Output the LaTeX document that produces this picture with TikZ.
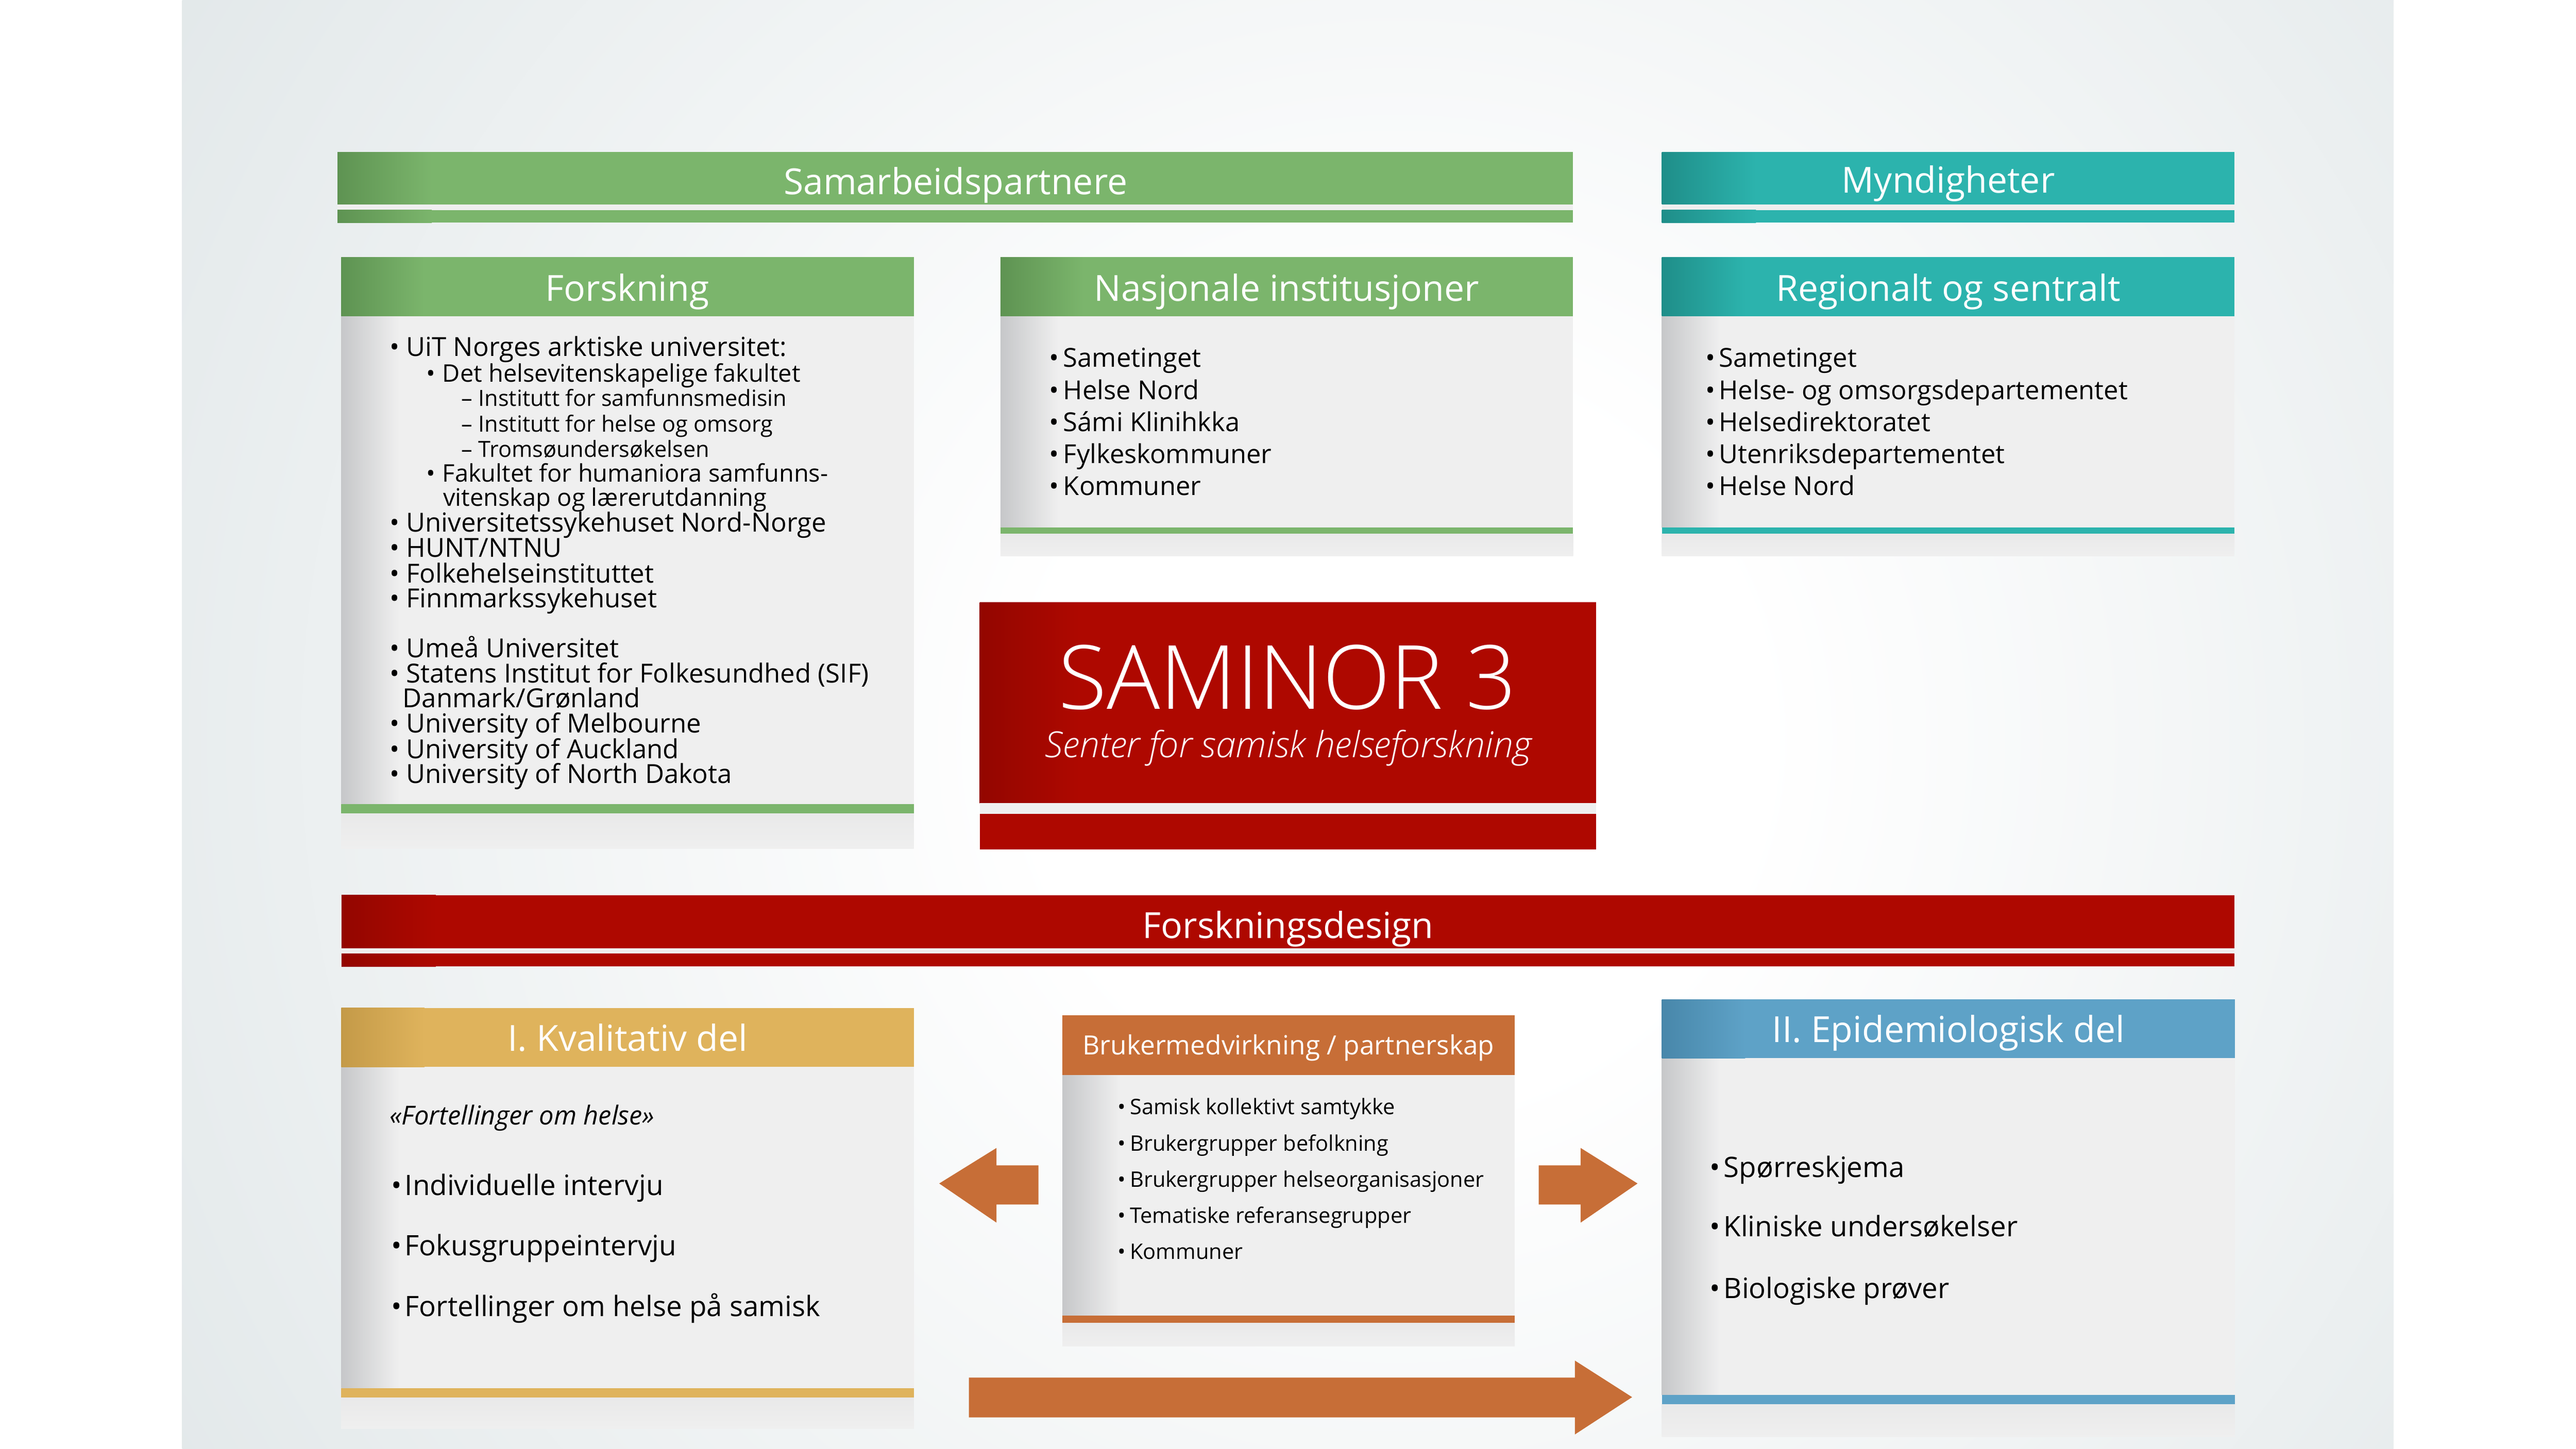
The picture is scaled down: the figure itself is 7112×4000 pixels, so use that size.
\documentclass[tikz,border=0pt]{standalone}
\usepackage{fontspec}
\usepackage{graphicx}
\setmainfont{Open Sans}
\newfontfamily\oslight{Open Sans Light}
\definecolor{bggray}{HTML}{D8E0E2}
\definecolor{bodygray}{HTML}{EFEFEF}
\definecolor{shadowgray}{HTML}{C6C7C9}
\definecolor{cgreen}{HTML}{7BB56C}
\definecolor{cgreenD}{HTML}{5E9352}
\definecolor{cteal}{HTML}{2CB3AD}
\definecolor{ctealD}{HTML}{1F8E89}
\definecolor{cred}{HTML}{AE0800}
\definecolor{credD}{HTML}{930600}
\definecolor{corange}{HTML}{C76E37}
\definecolor{cgold}{HTML}{DFB35C}
\definecolor{cgoldD}{HTML}{C49A48}
\definecolor{cblue}{HTML}{5EA2C7}
\definecolor{cblueD}{HTML}{4887AA}
\pgfdeclareradialshading{bgshade}{\pgfpoint{0bp}{0bp}}{color(0bp)=(white); color(6bp)=(white); color(30bp)=(bggray); color(50bp)=(bggray)}
\newcommand\fsT{\fontsize{28.2pt}{30pt}\selectfont}
\newcommand\fsA{\fontsize{20.6pt}{22pt}\selectfont}
\newcommand\fsB{\fontsize{19.0pt}{20pt}\selectfont}
\newcommand\fsC{\fontsize{17.5pt}{18pt}\selectfont}
\newcommand\fsN{\fontsize{20.5pt}{21pt}\selectfont}
\newcommand\fsS{\fontsize{16.8pt}{18pt}\selectfont}
\newcommand\fsH{\fontsize{20.8pt}{23pt}\selectfont}
\newcommand\fsK{\fontsize{22.1pt}{23pt}\selectfont}
\newcommand\fsBig{\fontsize{69.6pt}{72pt}\selectfont}
\newcommand\fsSub{\fontsize{28.2pt}{30pt}\selectfont}
\newcommand\bul[1]{\makebox[#1][l]{•}}
% x0 x1 top bot gapbot stripebot color dark
\newcommand\topbar[8]{%
  \fill[#7] (#1,#3) rectangle (#2,#4);
  \shade[left color=#8, right color=#7] (#1,#3) rectangle ++(260,#4-#3);
  \fill[bodygray] (#1,#4) rectangle (#2,#5);
  \fill[#7] (#1,#5) rectangle (#2,#6);
  \shade[left color=#8, right color=#7] (#1,#5) rectangle ++(260,#6-#5);
}
% x0 x1 headtop headbot linetop linebot bottom color dark
\newcommand\panelbox[9]{%
  \fill[bodygray] (#1,#4) rectangle (#2,#7);
  \shade[left color=shadowgray, right color=bodygray] (#1,#4) rectangle ++(160,#5-#4);
  \shade[top color=bodygray!85!shadowgray, bottom color=bodygray] (#1,#6) rectangle (#2,#7);
  \fill[#8] (#1,#3) rectangle (#2,#4);
  \shade[left color=#9, right color=#8] (#1,#3) rectangle ++(230,#4-#3);
  \fill[#8] (#1,#5) rectangle (#2,#6);
}
\begin{document}
\begin{tikzpicture}[x=0.01cm,y=-0.01cm,
  title/.style={text=white, anchor=base, inner sep=0pt, font=\fsT},
  txt/.style={anchor=base west, inner sep=0pt, text=black},
  arrowfill/.style={fill=corange}]
\useasboundingbox (0,0) rectangle (7112,4000);
% background
\fill[white] (0,0) rectangle (7112,4000);
\begin{scope}
  \clip (503,0) rectangle (6608,4000);
  \fill[bggray] (503,0) rectangle (6608,4000);
  \shade[shading=bgshade] (-345,-2160) rectangle (8055,6240);
\end{scope}

% top bars
\topbar{932}{4343}{420}{564}{580}{615}{cgreen}{cgreenD}
\topbar{4588}{6169}{420}{564}{580}{615}{cteal}{ctealD}
\node[title] (tSam) at (2638,537) {Samarbeidspartnere};
\node[title] (tMyn) at (5379,533) {Myndigheter};

% Forskning
\panelbox{942}{2523}{710}{873}{2220}{2246}{2344}{cgreen}{cgreenD}
\node[title] (tFor) at (1732,832) {Forskning};
\node[txt,font=\fsA] (f1) at (1076,984) {\bul{0.45cm}UiT Norges arktiske universitet:};
\node[txt,font=\fsB] (f2) at (1176,1054) {\bul{0.45cm}Det helsevitenskapelige fakultet};
\node[txt,font=\fsC] (f3) at (1273,1122) {\makebox[0.47cm][l]{–}Institutt for samfunnsmedisin};
\node[txt,font=\fsC] (f4) at (1273,1193) {\makebox[0.47cm][l]{–}Institutt for helse og omsorg};
\node[txt,font=\fsC] (f5) at (1273,1262) {\makebox[0.47cm][l]{–}Tromsøundersøkelsen};
\node[txt,font=\fsB] (f6) at (1176,1330) {\bul{0.45cm}Fakultet for humaniora samfunns-};
\node[txt,font=\fsB] (f7) at (1223,1398) {vitenskap og lærerutdanning};
\node[txt,font=\fsA] (f8) at (1076,1468) {\bul{0.45cm}Universitetssykehuset Nord-Norge};
\node[txt,font=\fsA] (f9) at (1076,1539) {\bul{0.45cm}HUNT/NTNU};
\node[txt,font=\fsA] (f10) at (1076,1609) {\bul{0.45cm}Folkehelseinstituttet};
\node[txt,font=\fsA] (f11) at (1076,1677) {\bul{0.45cm}Finnmarkssykehuset};
\node[txt,font=\fsA] (f12) at (1076,1816) {\bul{0.45cm}Umeå Universitet};
\node[txt,font=\fsA] (f13) at (1076,1886) {\bul{0.45cm}Statens Institut for Folkesundhed (SIF)};
\node[txt,font=\fsA] (f14) at (1111,1954) {Danmark/Grønland};
\node[txt,font=\fsA] (f15) at (1076,2024) {\bul{0.45cm}University of Melbourne};
\node[txt,font=\fsA] (f16) at (1076,2095) {\bul{0.45cm}University of Auckland};
\node[txt,font=\fsA] (f17) at (1076,2163) {\bul{0.45cm}University of North Dakota};

% Nasjonale institusjoner
\panelbox{2762}{4343}{710}{873}{1457}{1474}{1535}{cgreen}{cgreenD}
\node[title] (tNas) at (3552,832) {Nasjonale institusjoner};
\foreach \yy/\tt [count=\i] in {1014/Sametinget,1103/Helse Nord,1191/Sámi Klinihkka,1279/Fylkeskommuner,1368/Kommuner}
  \node[txt,font=\fsN] (n\i) at (2896,\yy) {\bul{0.39cm}\tt};

% Regionalt og sentralt
\panelbox{4588}{6169}{710}{873}{1457}{1474}{1535}{cteal}{ctealD}
\node[title] (tReg) at (5379,832) {Regionalt og sentralt};
\foreach \yy/\tt [count=\i] in {1014/Sametinget,1103/Helse- og omsorgsdepartementet,1191/Helsedirektoratet,1280/Utenriksdepartementet,1368/Helse Nord}
  \node[txt,font=\fsN] (r\i) at (4708,\yy) {\bul{0.37cm}\tt};

% SAMINOR 3
\fill[cred] (2705,1663) rectangle (4406,2218);
\shade[left color=credD, right color=cred] (2705,1663) rectangle (2980,2218);
\fill[bodygray] (2705,2218) rectangle (4406,2248);
\fill[cred] (2705,2248) rectangle (4406,2346);
\node[title,font=\fsBig\oslight] (tSaminor) at (3555,1958) {SAMINOR 3};
\node[title,font=\fsSub\oslight\itshape] (tSub) at (3557,2092) {Senter for samisk helseforskning};

% Forskningsdesign
\topbar{943}{6169}{2472}{2618}{2633}{2669}{cred}{credD}
\node[title] (tDesign) at (3556,2591) {Forskningsdesign};

% I. Kvalitativ del
\panelbox{942}{2523}{2783}{2946}{3833}{3859}{3945}{cgold}{cgoldD}
\node[title] (tKval) at (1733,2903) {I. Kvalitativ del};
\node[txt,font=\fsN\itshape] (kq) at (1075,3106) {«Fortellinger om helse»};
\foreach \yy/\tt [count=\i] in {3301/Individuelle intervju,3467/Fokusgruppeintervju,3635/Fortellinger om helse på samisk}
  \node[txt,font=\fsK] (k\i) at (1080,\yy) {\bul{0.37cm}\tt};

% Brukermedvirkning
\panelbox{2933}{4182}{2804}{2968}{3633}{3653}{3718}{corange}{corange}
\node[title,font=\fsH] (tBruk) at (3557,2913) {Brukermedvirkning / partnerskap};
\foreach \yy/\tt [count=\i] in {3077/Samisk kollektivt samtykke,3178/Brukergrupper befolkning,3278/Brukergrupper helseorganisasjoner,3378/Tematiske referansegrupper,3477/Kommuner}
  \node[txt,font=\fsS] (b\i) at (3085,\yy) {\bul{0.34cm}\tt};

% II. Epidemiologisk del
\panelbox{4588}{6170}{2760}{2922}{3852}{3877}{3968}{cblue}{cblueD}
\node[title] (tEpi) at (5379,2878) {II. Epidemiologisk del};
\foreach \yy/\tt [count=\i] in {3251/Spørreskjema,3415/Kliniske undersøkelser,3585/Biologiske prøver}
  \node[txt,font=\fsK] (e\i) at (4719,\yy) {\bul{0.39cm}\tt};

% arrows
\fill[arrowfill] (2593,3268) -- (2751,3170) -- (2751,3218) -- (2867,3218) -- (2867,3326) -- (2751,3326) -- (2751,3376) -- cycle;
\fill[arrowfill] (4248,3218) -- (4364,3218) -- (4364,3170) -- (4521,3268) -- (4364,3376) -- (4364,3326) -- (4248,3326) -- cycle;
\fill[arrowfill] (2675,3804) -- (4348,3804) -- (4348,3757) -- (4506,3858) -- (4348,3961) -- (4348,3914) -- (2675,3914) -- cycle;
\end{tikzpicture}
\end{document}
